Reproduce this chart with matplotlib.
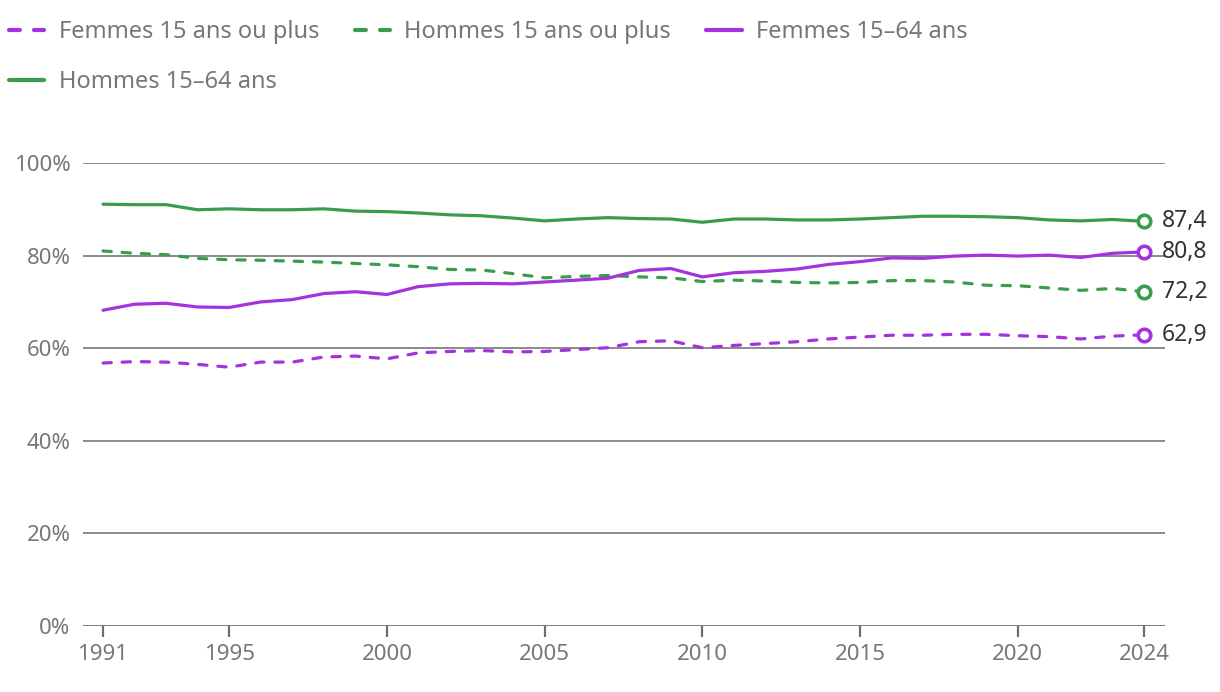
import matplotlib
matplotlib.use("Agg")
import matplotlib.pyplot as plt
import numpy as np

plt.rcParams['font.family'] = ['Noto Sans', 'DejaVu Sans']

years = list(range(1991, 2025))
femmes_15plus = [56.8, 57.1, 57.0, 56.5, 55.9, 57.0, 57.0, 58.1, 58.3, 57.7,
                 59.0, 59.3, 59.5, 59.2, 59.3, 59.7, 60.1, 61.4, 61.6, 60.1,
                 60.6, 61.0, 61.4, 62.0, 62.4, 62.8, 62.8, 63.0, 63.0, 62.7,
                 62.5, 62.0, 62.6, 62.9]
hommes_15plus = [81.0, 80.5, 80.2, 79.4, 79.1, 79.0, 78.8, 78.6, 78.3, 78.0,
                 77.6, 77.0, 76.9, 76.1, 75.2, 75.5, 75.7, 75.4, 75.2, 74.4,
                 74.7, 74.5, 74.2, 74.1, 74.2, 74.6, 74.6, 74.3, 73.6, 73.5,
                 73.0, 72.5, 72.9, 72.2]
femmes_1564 = [68.2, 69.5, 69.7, 68.9, 68.8, 70.0, 70.5, 71.8, 72.2, 71.6,
               73.3, 73.9, 74.0, 73.9, 74.3, 74.7, 75.1, 76.8, 77.2, 75.4,
               76.3, 76.6, 77.1, 78.1, 78.7, 79.5, 79.4, 79.9, 80.1, 79.9,
               80.1, 79.6, 80.5, 80.8]
hommes_1564 = [91.1, 91.0, 91.0, 89.9, 90.1, 89.9, 89.9, 90.1, 89.6, 89.5,
               89.2, 88.8, 88.6, 88.1, 87.5, 87.9, 88.2, 88.0, 87.9, 87.2,
               87.9, 87.9, 87.7, 87.7, 87.9, 88.2, 88.5, 88.5, 88.4, 88.2,
               87.7, 87.5, 87.8, 87.4]

labels = ["Femmes 15 ans ou plus", "Hommes 15 ans ou plus",
          "Femmes 15\u201364 ans", "Hommes 15\u201364 ans"]
end_labels = ["62,9", "72,2", "80,8", "87,4"]
xticks = [1991, 1995, 2000, 2005, 2010, 2015, 2020, 2024]
yticks = [0, 20, 40, 60, 80, 100]

PURPLE = "#a332e0"
GREEN = "#3a9d4e"
GREY = "#777777"

fig = plt.figure(figsize=(12.2, 6.92), dpi=100)
ax = fig.add_axes([83/1220, 1-626/692, (1165-83)/1220, (626-163)/692])
ax.set_xlim(1991 - 20/31.55, 2024 + 21/31.55)
ax.set_ylim(0, 100)

for v in yticks[1:]:
    ax.axhline(v, color="#8a8a8a", lw=1.4, zorder=1)
ax.axhline(0, color="#6e6e6e", lw=2.0, zorder=1)

series = [femmes_15plus, hommes_15plus, femmes_1564, hommes_1564]
colors = [PURPLE, GREEN, PURPLE, GREEN]
dashed = [True, True, False, False]
handles = []
for s, c, d, lab, el in zip(series, colors, dashed, labels, end_labels):
    ln, = ax.plot(years, s, color=c, lw=2.3, zorder=3, label=lab,
                  solid_capstyle='round', dash_capstyle='round')
    if d:
        ln.set_dashes((2.6, 3.4))
    handles.append(ln)
    ax.plot([years[-1]], [s[-1]], marker='o', ms=9, mfc='white', mec=c,
            mew=2.6, zorder=4, ls='none')
    ax.annotate(el, (years[-1], s[-1]), xytext=(13, 0), textcoords='offset points',
                va='center', ha='left', fontsize=16.5, color="#333333",
                annotation_clip=False)

for sp in ax.spines.values():
    sp.set_visible(False)
ax.set_xticks(xticks)
ax.set_xticklabels([str(x) for x in xticks])
ax.set_yticks(yticks)
ax.set_yticklabels([f"{v}%" for v in yticks])
ax.tick_params(axis='x', length=8, width=1.6, color="#6e6e6e", labelsize=16,
               labelcolor=GREY, pad=5)
ax.tick_params(axis='y', length=0, labelsize=16, labelcolor=GREY, pad=9)

order = [0, 3, 1, 2]
leg = fig.legend(handles=[handles[i] for i in order], loc='upper left',
                 bbox_to_anchor=(9/1220, 1 - 20/692), ncol=3, frameon=False,
                 fontsize=17, labelcolor=GREY,
                 handlelength=1.5, handletextpad=0.6, columnspacing=1.5,
                 borderaxespad=0.0, borderpad=0.0, labelspacing=1.12)
for h in leg.legend_handles:
    h.set_linewidth(3)

fig.savefig("out.png", dpi=100)
